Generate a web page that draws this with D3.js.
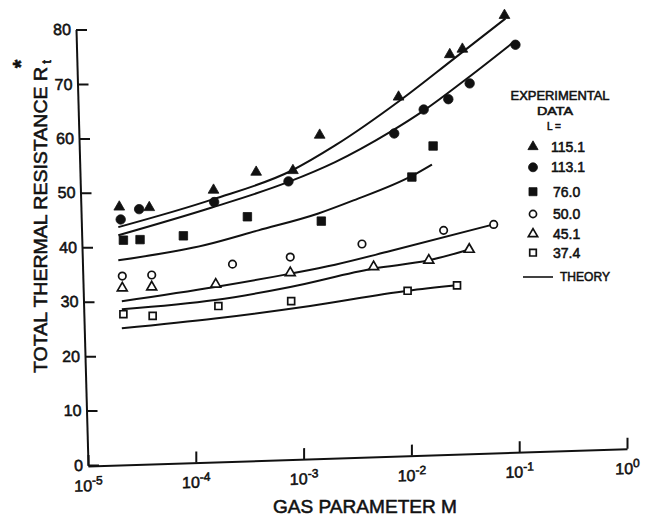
<!DOCTYPE html>
<html><head><meta charset="utf-8">
<script src="https://cdn.jsdelivr.net/npm/d3@7"></script>
<style>
body{margin:0;background:#fff}
svg{display:block;background:#fff}
text{font-family:"Liberation Sans",Arial,sans-serif;fill:#111;stroke:#111;stroke-width:0.55px}
</style>
</head><body>
<svg id="c" width="645" height="518"></svg>
<script>
// ---------- data ----------
const categories = ["115.1","113.1","76.0","50.0","45.1","37.4"];
// experimental points: [gas parameter M, total thermal resistance R*t]
const exp115 = [[1.95e-5,47.4],[3.7e-5,47.3],[1.46e-4,50.5],[3.63e-4,53.8],[7.96e-4,54.1],[1.41e-3,60.6],[7.6e-3,67.6],[2.27e-2,75.4],[2.97e-2,76.4],[7.3e-2,82.6]];
const exp113 = [[2.01e-5,45.1],[2.98e-5,47.0],[1.48e-4,48.3],[7.24e-4,52.1],[6.93e-3,60.9],[1.30e-2,65.3],[2.20e-2,67.2],[3.47e-2,70.1],[9.23e-2,77.2]];
const exp76  = [[2.13e-5,41.3],[3.04e-5,41.4],[7.67e-5,42.1],[3.01e-4,45.6],[1.46e-3,44.8],[1.01e-2,52.9],[1.59e-2,58.6]];
const exp50  = [[2.08e-5,34.7],[3.90e-5,34.9],[2.19e-4,36.9],[7.52e-4,38.2],[3.48e-3,40.6],[1.99e-2,43.1],[5.80e-2,44.2]];
const exp45  = [[2.08e-5,32.5],[3.90e-5,32.7],[1.53e-4,33.2],[7.52e-4,35.3],[4.46e-3,36.4],[1.45e-2,37.6],[3.44e-2,39.6]];
const exp37  = [[2.13e-5,27.7],[3.98e-5,27.4],[1.62e-4,29.2],[7.67e-4,30.1],[9.22e-3,32.0],[2.65e-2,33.0]];
// theory curves
const th115 = [[1.91e-5,43.7],[1.41e-4,48.75],[7.78e-4,54.1],[1.96e-3,58.7],[7.89e-3,67.0],[2.47e-2,74.6],[7.45e-2,82.0]];
const th113 = [[1.91e-5,42.2],[1.41e-4,47.3],[7.24e-4,52.0],[1.96e-3,55.65],[6.37e-3,61.2],[1.30e-2,65.1],[3.28e-2,71.0],[8.89e-2,77.7]];
const th76  = [[1.91e-5,37.6],[1.22e-4,40.4],[3.81e-4,43.1],[1.37e-3,46.2],[2.90e-3,48.6],[1.01e-2,53.1],[1.55e-2,55.2]];
const th50  = [[2.06e-5,30.1],[1.51e-4,32.7],[7.78e-4,35.2],[1.96e-3,36.8],[6.37e-3,39.3],[5.79e-2,44.2]];
const th45  = [[2.06e-5,28.6],[1.51e-4,30.3],[7.52e-4,32.7],[4.46e-3,36.1],[1.45e-2,37.6],[3.44e-2,39.6]];
const th37  = [[2.06e-5,25.1],[1.51e-4,26.9],[1.15e-3,29.2],[9.23e-3,32.0],[2.65e-2,33.0]];
// ticks
const xTicks = [1e-5,1e-4,1e-3,1e-2,1e-1,1];
const xTickExponents = ["-5","-4","-3","-2","-1","0"];
const yTicks = [0,10,20,30,40,50,60,70,80];

const expSeries = [exp115, exp113, exp76, exp50, exp45, exp37];
const thSeries = [th115, th113, th76, th50, th45, th37];

// ---------- styles ----------
const INK = "#111";
const markerStyle = [
  {type:d3.symbolTriangle, size:50, filled:true},
  {type:d3.symbolCircle,   size:70, filled:true},
  {type:d3.symbolSquare,   size:72, filled:true},
  {type:d3.symbolCircle,   size:44, filled:false},
  {type:d3.symbolTriangle, size:42, filled:false},
  {type:d3.symbolSquare,   size:48, filled:false}
];

const svg = d3.select("#c");
const x = d3.scaleLog().domain([1e-5,1]).range([88,627]);
const y = d3.scaleLinear().domain([0,80]).range([465,29.5]);

// ---------- Y axis (slightly slanted, as in the scan) ----------
const gy = svg.append("g")
  .attr("transform","translate(88,465) skewX(1.58) translate(-88,-465) translate(88,0)")
  .call(d3.axisLeft(y).tickValues(yTicks).tickFormat(d3.format("d"))
        .tickSizeInner(-11).tickSizeOuter(0).tickPadding(5));
gy.select(".domain").attr("stroke",INK).attr("stroke-width",2);
gy.selectAll(".tick line").attr("stroke",INK).attr("stroke-width",2);
gy.selectAll(".tick text").attr("font-size",16).attr("fill",INK)
  .style("font-family","'Liberation Sans',Arial,sans-serif");

// ---------- X axis (slightly tilted, as in the scan) ----------
const gx = svg.append("g")
  .attr("transform","translate(88,466) skewY(-1.83) translate(-88,0)")
  .call(d3.axisBottom(x).tickValues(xTicks).tickFormat(()=>"")
        .tickSizeInner(-11).tickSizeOuter(0).tickPadding(14));
gx.select(".domain").attr("stroke",INK).attr("stroke-width",2);
gx.selectAll(".tick line").attr("stroke",INK).attr("stroke-width",2);
gx.selectAll(".tick text").each(function(d,i){
  const t = d3.select(this).attr("font-size",16).attr("fill",INK)
    .style("font-family","'Liberation Sans',Arial,sans-serif");
  t.text(null);
  t.append("tspan").text("10");
  t.append("tspan").attr("dy","-0.55em").attr("font-size",12).text(xTickExponents[i]);
});

// ---------- theory curves ----------
const line = d3.line().x(d=>x(d[0])).y(d=>y(d[1])).curve(d3.curveMonotoneX);
svg.append("g").selectAll("path").data(thSeries).join("path")
  .attr("d",line).attr("fill","none").attr("stroke",INK).attr("stroke-width",2);

// ---------- experimental points ----------
expSeries.forEach((ser,i)=>{
  const st = markerStyle[i];
  svg.append("g").selectAll("path").data(ser).join("path")
    .attr("transform",d=>`translate(${x(d[0])},${y(d[1])})`)
    .attr("d",d3.symbol().type(st.type).size(st.size))
    .attr("fill",st.filled?INK:"#fff")
    .attr("stroke",INK).attr("stroke-width",st.filled?0.8:1.7);
});

// ---------- legend ----------
const lg = svg.append("g");
lg.append("text").attr("x",560).attr("y",100).attr("text-anchor","middle")
  .attr("font-size",13).attr("textLength",99).attr("lengthAdjust","spacingAndGlyphs").text("EXPERIMENTAL");
lg.append("text").attr("x",555).attr("y",115).attr("text-anchor","middle")
  .attr("font-size",11).attr("textLength",36).attr("lengthAdjust","spacingAndGlyphs").text("DATA");
lg.append("text").attr("x",554).attr("y",130).attr("text-anchor","middle")
  .attr("font-size",10).text("L =");
const rowY = [146.7,167.3,191.7,214,234,252.7];
categories.forEach((c,i)=>{
  const st = markerStyle[i];
  lg.append("path").attr("transform",`translate(533,${rowY[i]})`)
    .attr("d",d3.symbol().type(st.type).size(st.size*0.9))
    .attr("fill",st.filled?INK:"#fff").attr("stroke",INK).attr("stroke-width",st.filled?0.8:1.7);
  lg.append("text").attr("x",i<2?551:553).attr("y",rowY[i]+5)
    .attr("font-size",14).text(c);
});
lg.append("line").attr("x1",523).attr("x2",553).attr("y1",277).attr("y2",277)
  .attr("stroke",INK).attr("stroke-width",1.6);
lg.append("text").attr("x",560).attr("y",281).attr("font-size",13)
  .attr("textLength",50).attr("lengthAdjust","spacingAndGlyphs").text("THEORY");

// ---------- axis titles ----------
svg.append("text").attr("x",273).attr("y",513).attr("font-size",19)
  .attr("textLength",184).attr("lengthAdjust","spacingAndGlyphs").text("GAS PARAMETER M");
svg.append("text").attr("transform","rotate(-90)").attr("x",-373).attr("y",47)
  .attr("font-size",19).attr("textLength",306).attr("lengthAdjust","spacingAndGlyphs")
  .text("TOTAL THERMAL RESISTANCE R");
svg.append("text").attr("transform","rotate(-90)").attr("x",-64).attr("y",28)
  .attr("text-anchor","middle").attr("font-size",22).attr("font-weight","bold").text("*");
svg.append("text").attr("transform","rotate(-90)").attr("x",-62).attr("y",51)
  .attr("text-anchor","middle").attr("font-size",13).text("t");
</script>
</body></html>
